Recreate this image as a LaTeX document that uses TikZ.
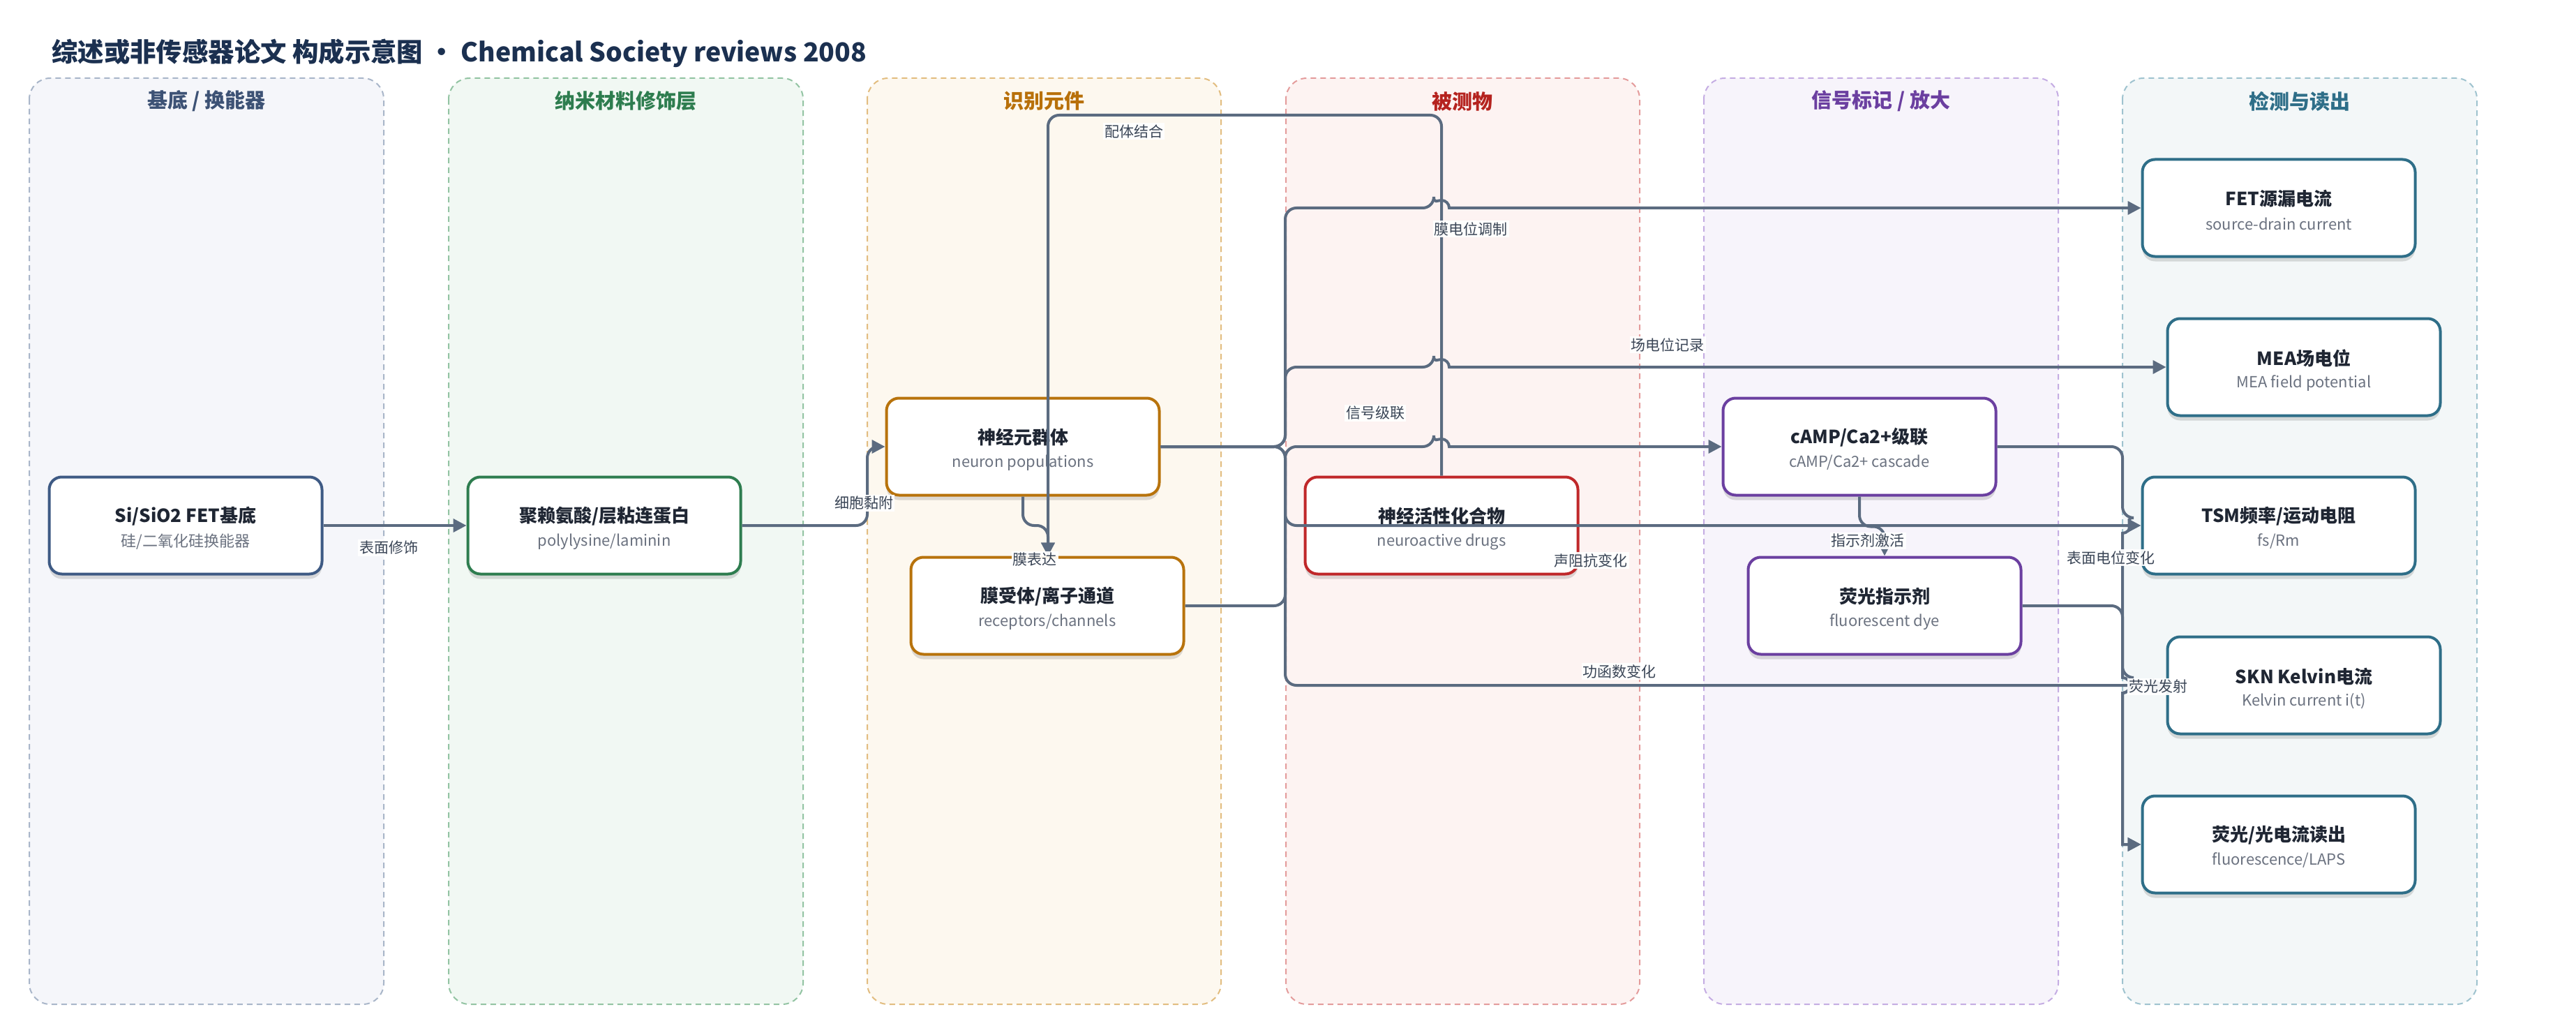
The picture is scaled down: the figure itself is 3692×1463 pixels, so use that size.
\documentclass[tikz,border=0pt]{standalone}
\usepackage{fontspec}
\setmainfont{Noto Sans CJK SC}
\usetikzlibrary{arrows.meta,shadows,calc}
\definecolor{edgec}{HTML}{5B6B80}
\definecolor{ink}{HTML}{1F2633}
\definecolor{subc}{HTML}{6B7280}
\definecolor{lblc}{HTML}{3A4556}
\definecolor{titc}{HTML}{1B3050}
\definecolor{fA}{HTML}{F5F6FA}\definecolor{dA}{HTML}{A9B6C9}\definecolor{tA}{HTML}{3D5275}
\definecolor{fB}{HTML}{F1F8F3}\definecolor{dB}{HTML}{93C4A3}\definecolor{tB}{HTML}{2E7D4F}
\definecolor{fC}{HTML}{FDF8EF}\definecolor{dC}{HTML}{E2BD80}\definecolor{tC}{HTML}{B8700A}
\definecolor{fD}{HTML}{FDF3F2}\definecolor{dD}{HTML}{E49C9C}\definecolor{tD}{HTML}{B5231F}
\definecolor{fE}{HTML}{F7F4FB}\definecolor{dE}{HTML}{C5ADE3}\definecolor{tE}{HTML}{6B3FA0}
\definecolor{fF}{HTML}{F3F7F8}\definecolor{dF}{HTML}{9FC3CF}\definecolor{tF}{HTML}{2E6E88}
\definecolor{bA}{HTML}{3E5A84}
\definecolor{bB}{HTML}{2E7D4F}
\definecolor{bC}{HTML}{B8730C}
\definecolor{bD}{HTML}{C0282A}
\definecolor{bE}{HTML}{6B3FA0}
\definecolor{bF}{HTML}{2E6E88}
\begin{document}
\begin{tikzpicture}[x=1pt,y=-1pt,
  lane/.style={rounded corners=30pt, line width=2pt, dash pattern=on 8pt off 6pt},
  lanetitle/.style={font=\bfseries\fontsize{29}{34}\selectfont},
  box/.style={rounded corners=18pt, minimum width=391pt, minimum height=139pt, line width=4pt, fill=white, draw=#1, inner sep=0pt,
     drop shadow={shadow xshift=0pt, shadow yshift=-7pt, fill=black, opacity=0.13}},
  ttl/.style={font=\bfseries\fontsize{26}{30}\selectfont, text=ink},
  sub/.style={font=\fontsize{22}{26}\selectfont, text=subc},
  edge/.style={draw=edgec, line width=4pt, rounded corners=16pt, -{Triangle[length=19pt,width=19pt]}},
  lbl/.style={font=\fontsize{21}{24}\selectfont, text=lblc, fill=white, fill opacity=0.92, text opacity=1, inner sep=2pt}
]
\useasboundingbox[fill=white] (0,0) rectangle (3692,1463);

% title
\node[anchor=west, font=\bfseries\fontsize{37.4}{42}\selectfont, text=titc, inner sep=0pt] (title) at (74,76) {综述或非传感器论文 构成示意图 • Chemical Society reviews 2008};

% lanes
\draw[lane, fill=fA, draw=dA] (42,112) rectangle (550,1439);
\draw[lane, fill=fB, draw=dB] (643,112) rectangle (1151,1439);
\draw[lane, fill=fC, draw=dC] (1243,112) rectangle (1750,1439);
\draw[lane, fill=fD, draw=dD] (1843,112) rectangle (2350,1439);
\draw[lane, fill=fE, draw=dE] (2442,112) rectangle (2950,1439);
\draw[lane, fill=fF, draw=dF] (3042,112) rectangle (3550,1439);
\node[lanetitle, text=tA] (lt1) at (296,145) {基底 / 换能器};
\node[lanetitle, text=tB] (lt2) at (897,145) {纳米材料修饰层};
\node[lanetitle, text=tC] (lt3) at (1496,145) {识别元件};
\node[lanetitle, text=tD] (lt4) at (2096,145) {被测物};
\node[lanetitle, text=tE] (lt5) at (2696,145) {信号标记 / 放大};
\node[lanetitle, text=tF] (lt6) at (3296,145) {检测与读出};

% nodes
\node[box=bA] (nsub) at (266,753) {};
\node[box=bB] (npoly) at (866,753) {};
\node[box=bC] (nneur) at (1466,640) {};
\node[box=bC] (nrec) at (1501,868) {};
\node[box=bD] (ndrug) at (2066,753) {};
\node[box=bE] (ncamp) at (2665,640) {};
\node[box=bE] (ndye) at (2701,868) {};
\node[box=bF] (nfet) at (3266,298) {};
\node[box=bF] (nmea) at (3302,526) {};
\node[box=bF] (ntsm) at (3266,753) {};
\node[box=bF] (nskn) at (3302,982) {};
\node[box=bF] (nflu) at (3266,1210) {};

\foreach \n/\a/\b in {nsub/{Si/SiO2 FET基底}/{硅/二氧化硅换能器},
  npoly/{聚赖氨酸/层粘连蛋白}/{polylysine/laminin},
  nneur/{神经元群体}/{neuron populations},
  nrec/{膜受体/离子通道}/{receptors/channels},
  ndrug/{神经活性化合物}/{neuroactive drugs},
  ncamp/{cAMP/Ca2+级联}/{cAMP/Ca2+ cascade},
  ndye/{荧光指示剂}/{fluorescent dye},
  nfet/{FET源漏电流}/{source-drain current},
  nmea/{MEA场电位}/{MEA field potential},
  ntsm/{TSM频率/运动电阻}/{fs/Rm},
  nskn/{SKN Kelvin电流}/{Kelvin current i(t)},
  nflu/{荧光/光电流读出}/{fluorescence/LAPS}}{
  \node[ttl] (\n-t) at ($(\n.center)+(0,-13)$) {\a};
  \node[sub] (\n-s) at ($(\n.center)+(0,23)$) {\b};
}

% helper coordinates
\coordinate (rx) at (1502,165);

% edges
\draw[edge] (nsub.east) -- (npoly.west);
\draw[edge] (npoly.east) -- (1243,753) -- (1243,640) -- (nneur.west);
\draw[edge] (nneur.south) -- (1466,753) -- (1502,753) -- (rx |- nrec.north);
\draw[edge] (ndrug.north) -- (2066,165) -- (rx) -- (rx |- nrec.north);
\draw[edge] (nneur.east) -- (1842,640) -- (1842,298) -- (2055,298) [sharp corners] arc (180:0:11pt) -- (nfet.west);
\draw[edge] (nneur.east) -- (1842,640) -- (1842,526) -- (2055,526) [sharp corners] arc (180:0:11pt) -- (nmea.west);
\draw[edge] (nrec.east) -- (1842,868) -- (1842,640) -- (2055,640) [sharp corners] arc (180:0:11pt) -- (ncamp.west);
\draw[edge] (nneur.east) -- (1842,640) -- (1842,753) -- (ntsm.west);
\draw[edge] (nneur.east) -- (1842,640) -- (1842,982) -- (nskn.west);
\draw[edge] (ncamp.south) -- ++(0,43) -| (ndye.north);
\draw[edge] (ncamp.east) -- (3042,640) -- (3042,742) [sharp corners] arc (90:-90:11pt) -- (3042,971) arc (90:-90:11pt) -- (3042,1210) [rounded corners=16pt] -- (nflu.west);
\draw[edge] (ndye.east) -- (3042,868) -- (3042,971) [sharp corners] arc (90:-90:11pt) -- (3042,1210) [rounded corners=16pt] -- (nflu.west);

% edge labels
\node[lbl] (l1) at (557,785) {表面修饰};
\node[lbl] (l2) at (1238,721) {细胞黏附};
\node[lbl] (l3) at (1483,802) {膜表达};
\node[lbl] (l4) at (1625,188) {配体结合};
\node[lbl] (l5) at (2108,328) {膜电位调制};
\node[lbl] (l6) at (2390,494) {场电位记录};
\node[lbl] (l7) at (1971,592) {信号级联};
\node[lbl] (l8) at (2280,803) {声阻抗变化};
\node[lbl] (l9) at (2321,962) {功函数变化};
\node[lbl] (l10) at (2677,775) {指示剂激活};
\node[lbl] (l11) at (3025,799) {表面电位变化};
\node[lbl] (l12) at (3093,984) {荧光发射};
\end{tikzpicture}
\end{document}
